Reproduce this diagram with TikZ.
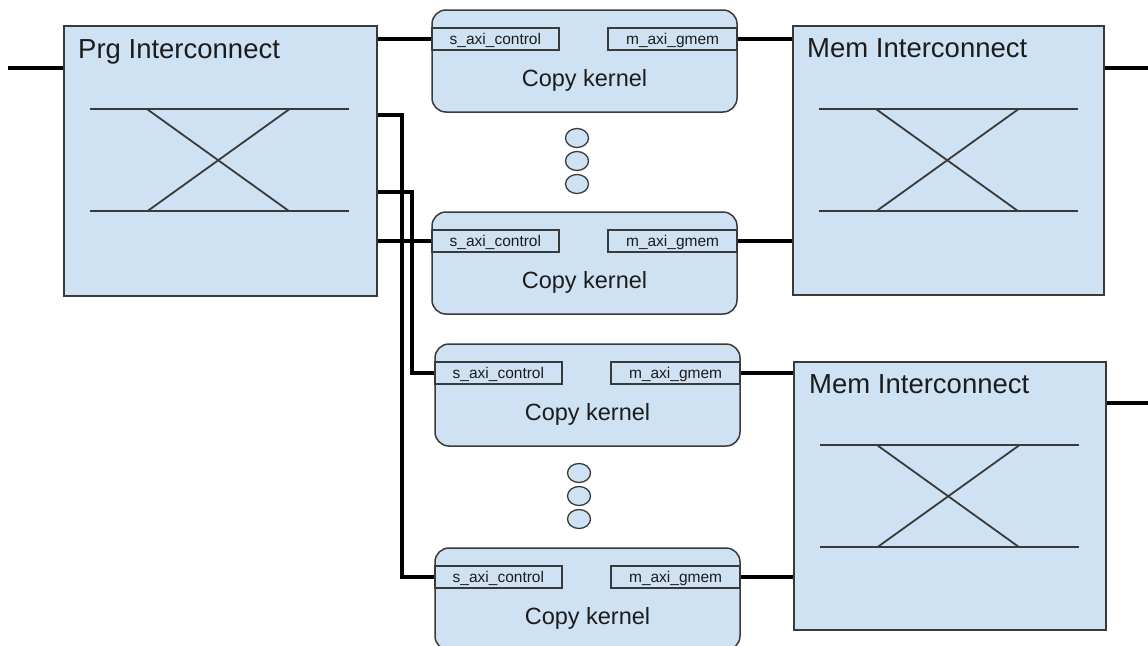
\documentclass[tikz,border=0pt]{standalone}
\usepackage{fontspec}
\setmainfont{Liberation Sans}
\usetikzlibrary{shapes.geometric,calc}
\definecolor{boxfill}{HTML}{CFE2F3}
\definecolor{boxline}{HTML}{3A3A3A}
\definecolor{txt}{HTML}{1C1C1C}
\newcommand{\drawcrossbar}[1]{%
  \begin{scope}[shift={(#1.north west)}]
    \draw[xbarline] (27,84) -- (286,84);
    \draw[xbarline] (27,186) -- (286,186);
    \draw[xbarline] (84,84) -- (226,186);
    \draw[xbarline] (226,84) -- (84,186);
  \end{scope}}
\begin{document}
\begin{tikzpicture}[x=1pt,y=-1pt,
  ic/.style={draw=boxline,fill=boxfill,line width=1.5pt,inner sep=0pt},
  kernel/.style={draw=boxline,fill=boxfill,line width=1.5pt,rounded corners=14pt,
    minimum width=305pt,minimum height=102pt,inner sep=0pt},
  port/.style={draw=boxline,fill=boxfill,line width=1.3pt,inner sep=0pt,
    minimum height=22pt,text height=14pt,text depth=2pt,text=txt,
    font=\fontsize{15.5pt}{17pt}\selectfont},
  sport/.style={port,minimum width=127pt,anchor=north west},
  mport/.style={port,minimum width=129pt,anchor=north east},
  ktext/.style={anchor=base,inner sep=0pt,text=txt,font=\fontsize{23.5pt}{26pt}\selectfont},
  title/.style={anchor=base west,inner sep=0pt,text=txt,font=\fontsize{27.5pt}{30pt}\selectfont},
  dot/.style={ellipse,draw=boxline,fill=boxfill,line width=1.3pt,minimum width=23pt,minimum height=19pt,inner sep=0pt},
  wire/.style={line width=4pt,black},
  xbarline/.style={line width=1.8pt,boxline}]
\useasboundingbox (0,0) rectangle (1148,645);
\clip (0,0) rectangle (1148,645);
\fill[white] (0,0) rectangle (1148,645);

% interconnects
\node[ic,minimum width=313pt,minimum height=270pt] (prg) at (220.5,161) {};
\node[ic,minimum width=311pt,minimum height=269pt] (mem1) at (948.5,160.5) {};
\node[ic,minimum width=312pt,minimum height=268pt] (mem2) at (950,496) {};
\node[title] (prgt) at (78,58.5) {Prg Interconnect};
\node[title] (mem1t) at (807,57.5) {Mem Interconnect};
\node[title] (mem2t) at (809,393) {Mem Interconnect};
\drawcrossbar{prg}
\drawcrossbar{mem1}
\drawcrossbar{mem2}

% kernels
\foreach \k/\x/\y in {k1/584.5/61, k2/584.5/263, k3/587.5/395, k4/587.5/599}{
  \node[kernel] (\k) at (\x,\y) {};
  \node[sport] (\k s) at ([yshift=-18pt]\k.north west) {s\_axi\_control};
  \node[mport] (\k m) at ([yshift=-18pt]\k.north east) {m\_axi\_gmem};
  \node[ktext] (\k t) at ([yshift=-77pt]\k.north) {Copy kernel};
}

% ellipsis dots
\node[dot] (d1) at (577,138) {};
\node[dot] (d2) at (577,161) {};
\node[dot] (d3) at (577,184) {};
\node[dot] (d4) at (579,473) {};
\node[dot] (d5) at (579,496) {};
\node[dot] (d6) at (579,519) {};

% connectors
\coordinate (in) at (8,68);
\draw[wire] (in) -- (in -| prg.west);
\draw[wire] (prg.east |- k1s.west) -- (k1s.west);
\draw[wire] (prg.east |- k2s.west) -- (k2s.west);
\coordinate (pa) at ([yshift=-90pt]prg.north east);
\coordinate (pb) at ([yshift=-167pt]prg.north east);
\coordinate (va) at (402,0);
\coordinate (vb) at (412,0);
\draw[wire] (pa) -| (va |- k4s.west) -- (k4s.west);
\draw[wire] (pb) -| (vb |- k3s.west) -- (k3s.west);
\draw[wire] (k1m.east) -- (k1m.east -| mem1.west);
\draw[wire] (k2m.east) -- (k2m.east -| mem1.west);
\draw[wire] (k3m.east) -- (k3m.east -| mem2.west);
\draw[wire] (k4m.east) -- (k4m.east -| mem2.west);
\coordinate (out1) at (1148,68);
\coordinate (out2) at (1148,403);
\draw[wire] (mem1.east |- out1) -- (out1);
\draw[wire] (mem2.east |- out2) -- (out2);
\end{tikzpicture}
\end{document}
